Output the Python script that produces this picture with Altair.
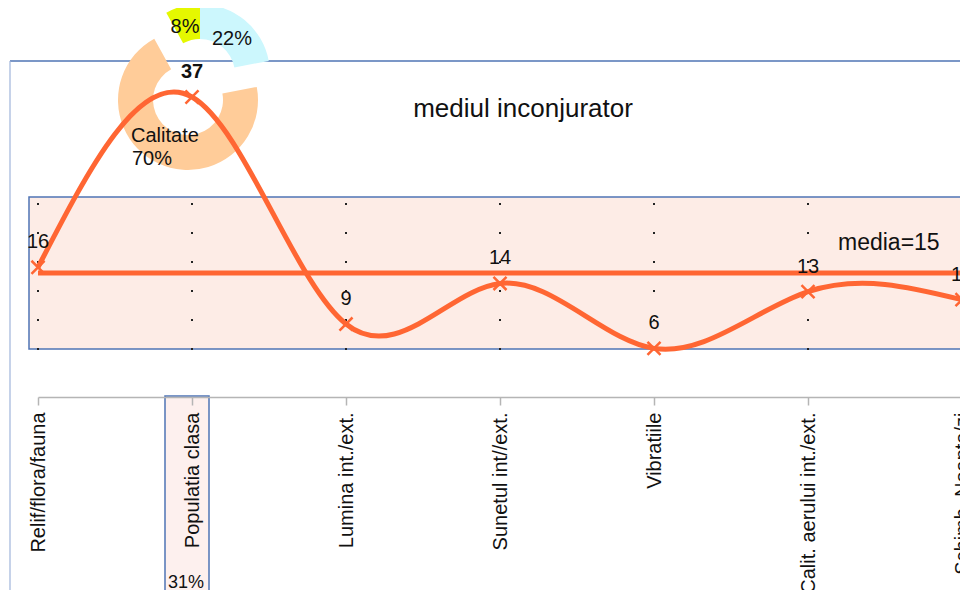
import altair as alt
import pandas as pd

# ---- data ----
categories = ["Relif/flora/fauna", "Populatia clasa", "Lumina int./ext.",
              "Sunetul int//ext.", "Vibratiile", "Calit. aerului int./ext.",
              "Schimb. Noapte/zi"]
values = [16, 37, 9, 14, 6, 13, 12]
title_text = "mediul inconjurator"
media_text = "media=15"
pie_names = ["Altele", "Calitate", "Rest"]
pie_values = [22, 70, 8]
pie_colors = ["#ccf7fd", "#ffcc99", "#e5f800"]
highlight_text = "31%"

LINE = "#ff6633"
BLUE = "#4f74b5"
FONT = "Liberation Sans"

df = pd.DataFrame({"cat": categories, "value": values})
vmax = max(values)
df["bold"] = df["value"] == vmax
media_df = pd.DataFrame({"value": [sum(values) / len(values)]})
pie_df = pd.DataFrame({"name": pie_names, "pv": pie_values,
                       "ord": list(range(len(pie_names))),
                       "main": [n == "Calitate" for n in pie_names]})
one = alt.Data(values=[{"k": 1}])

XR = [30, 954]
xscale = alt.Scale(type="point", range=XR, padding=0)
yscale = alt.Scale(domain=[0, 37], range=[389, 89])
xaxis = alt.Axis(title=None, labelAngle=-90, labelAlign="right", labelBaseline="middle",
                 labelFontSize=20, labelFont=FONT, labelColor="#111111", labelPadding=7,
                 tickSize=8, tickColor="#b5b5b5", tickWidth=1.5, domainColor="#b5b5b5",
                 domainWidth=1.5, grid=False, labelOverlap=False, labelLimit=400, zindex=1)
X = alt.X("cat:N", sort=categories, scale=xscale, axis=xaxis)
Y = alt.Y("value:Q", scale=yscale, axis=None)

# frame lines
frame_top = alt.Chart(one).mark_rule(color=BLUE, strokeWidth=1.5).encode(
    x=alt.value(2), x2=alt.value(970), y=alt.value(53))
frame_left = alt.Chart(one).mark_rule(color="#9fb4da", strokeWidth=1.2).encode(
    x=alt.value(2), y=alt.value(53), y2=alt.value(600))

# pink band
band = alt.Chart(one).mark_rect(fill="#fdece6", stroke=BLUE, strokeWidth=1.5).encode(
    x=alt.value(21), x2=alt.value(975), y=alt.value(189), y2=alt.value(341))

# dotted grid
grid = alt.Chart(df).mark_rule(color="#222222", strokeWidth=2, strokeDash=[2, 27]).encode(
    x=X, y=alt.value(195), y2=alt.value(342))

right_edge = alt.Chart(one).mark_rule(color="#c8c8c8", strokeWidth=1.5).encode(
    x=alt.value(XR[1]), y=alt.value(76), y2=alt.value(389))

# highlighted label box
hbox = alt.Chart(one).mark_rect(fill="#fdf0ee", stroke=BLUE, strokeWidth=1.5).encode(
    x=alt.value(157), x2=alt.value(201), y=alt.value(388), y2=alt.value(600))
htext = alt.Chart(one).mark_text(text=highlight_text, fontSize=18, font=FONT, color="#111111",
                                 align="center", baseline="alphabetic").encode(
    x=alt.value(178), y=alt.value(580))

# donut
def arc_layer(cx, cy, show_main):
    cond = "datum.main" if show_main else "!datum.main"
    return alt.Chart(pie_df).mark_arc(innerRadius=35, outerRadius=70).encode(
        theta=alt.Theta("pv:Q", stack=True),
        order=alt.Order("ord:Q"),
        fill=alt.Fill("name:N", scale=alt.Scale(domain=pie_names, range=pie_colors), legend=None),
        opacity=alt.condition(cond, alt.value(1), alt.value(0)),
        x=alt.value(cx), y=alt.value(cy))

arc_main = arc_layer(180, 92, True)
arc_expl = arc_layer(192, 66, False)

def txt(s, x, y, size=20, align="center", weight="normal"):
    return alt.Chart(one).mark_text(text=s, fontSize=size, font=FONT, color="#111111",
                                    align=align, baseline="alphabetic", fontWeight=weight).encode(
        x=alt.value(x), y=alt.value(y))

pie_t1 = txt(f"{pie_values[2]}%", 177, 25)
pie_t2 = txt(f"{pie_values[0]}%", 224, 37)
pie_t3 = txt(pie_names[1], 123, 134, align="left")
pie_t4 = txt(f"{pie_values[1]}%", 124, 157, align="left")

# mean line
media = alt.Chart(media_df).mark_rule(color=LINE, strokeWidth=5).encode(
    y=Y, x=alt.value(30), x2=alt.value(975))
media_t = txt(media_text, 830, 242, size=23, align="left")

# curve
curve = alt.Chart(df).mark_line(interpolate="natural", color=LINE, strokeWidth=5).encode(x=X, y=Y)
pts = alt.Chart(df).mark_point(shape="M-1,-1L1,1M-1,1L1,-1", filled=False, size=170,
                               strokeWidth=2.5, color=LINE, opacity=1).encode(x=X, y=Y)
lab = alt.Chart(df).transform_filter("!datum.bold").mark_text(
    dy=-19, fontSize=20, font=FONT, color="#111111", baseline="alphabetic").encode(
    x=X, y=Y, text="value:Q")
lab_b = alt.Chart(df).transform_filter("datum.bold").mark_text(
    dy=-19, fontSize=20, font=FONT, fontWeight="bold", color="#111111", baseline="alphabetic").encode(
    x=X, y=Y, text="value:Q")

title = txt(title_text, 515, 109, size=26)

chart = alt.layer(
    frame_top, frame_left, band, grid, right_edge, hbox, htext,
    arc_main, arc_expl, pie_t1, pie_t2, pie_t3, pie_t4,
    media, curve, pts, lab, lab_b, media_t, title
).properties(
    width=952, height=389,
    padding={"left": 0, "top": 0, "right": 0, "bottom": 193},
    autosize=alt.AutoSizeParams(type="none"),
    background="white"
).configure_view(stroke=None)

chart.save("out.html", embed_options={"renderer": "svg", "actions": False})
